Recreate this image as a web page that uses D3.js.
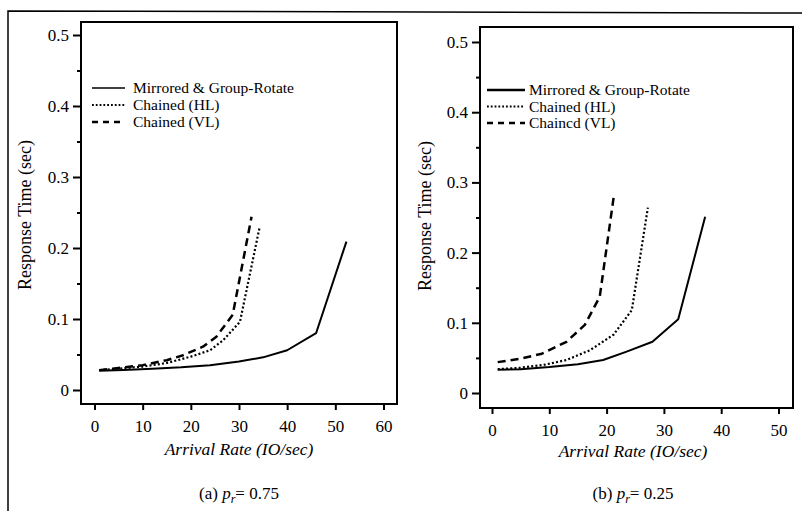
<!DOCTYPE html>
<html>
<head>
<meta charset="utf-8">
<script src="https://cdn.jsdelivr.net/npm/d3@7"></script>
<style>
  html, body { margin: 0; padding: 0; background: #fff; }
  svg { display: block; }
  text { font-family: "Liberation Serif", "Times New Roman", serif; fill: #000; }
</style>
</head>
<body>
<svg id="chart" width="802" height="511"></svg>
<script>
// ---------------- DATA ----------------
const seriesNames = ["Mirrored & Group-Rotate", "Chained (HL)", "Chained (VL)"];
const seriesNamesB = ["Mirrored & Group-Rotate", "Chained (HL)", "Chaincd (VL)"];

// Panel (a) p_r = 0.75
const a_mirroredX = [1, 6, 12, 18, 24, 30, 35, 40, 46, 52.3];
const a_mirroredY = [0.027, 0.028, 0.030, 0.032, 0.035, 0.040, 0.046, 0.056, 0.080, 0.209];
const a_hlX = [1, 5, 10, 15, 20, 24, 26.7, 30.2, 34.3];
const a_hlY = [0.028, 0.030, 0.033, 0.038, 0.047, 0.056, 0.070, 0.096, 0.230];
const a_vlX = [1, 5, 10, 15, 18.4, 22.5, 25.3, 28.7, 32.6];
const a_vlY = [0.028, 0.031, 0.035, 0.042, 0.049, 0.061, 0.075, 0.106, 0.244];

// Panel (b) p_r = 0.25
const b_mirroredX = [1, 5, 10, 15, 19.4, 23.5, 28, 32.5, 37.2];
const b_mirroredY = [0.033, 0.034, 0.037, 0.041, 0.047, 0.059, 0.073, 0.105, 0.251];
const b_hlX = [1, 5, 9, 13, 17.1, 21.2, 24.4, 27.2];
const b_hlY = [0.034, 0.036, 0.040, 0.047, 0.061, 0.083, 0.118, 0.264];
const b_vlX = [1, 5, 8.7, 13, 16.2, 18.8, 21.3];
const b_vlY = [0.044, 0.049, 0.056, 0.073, 0.097, 0.137, 0.283];

const a_xTicks = [0, 10, 20, 30, 40, 50, 60];
const b_xTicks = [0, 10, 20, 30, 40, 50];
const yTicks = [0, 0.1, 0.2, 0.3, 0.4, 0.5];
const yMinorTicks = [0.05, 0.15, 0.25, 0.35, 0.45];

const xTitle = "Arrival Rate (IO/sec)";
const yTitle = "Response Time (sec)";

// ---------------- DRAW ----------------
const svg = d3.select("#chart");

// outer frame of the scanned figure
svg.append("path")
  .attr("d", "M8,511 L8,11 L802,13")
  .attr("fill", "none").attr("stroke", "#000").attr("stroke-width", 1.5);

const styles = [
  { width: 2, dash: null },
  { width: 2.2, dash: "2,2.2" },
  { width: 2.5, dash: "8,5" }
];

function panel(cfg) {
  const g = svg.append("g");
  const x = d3.scaleLinear().domain(cfg.xDomain).range(cfg.xRange);
  const y = d3.scaleLinear().domain([0, 0.5]).range(cfg.yRange);

  // box
  g.append("rect")
    .attr("x", cfg.box[0]).attr("y", cfg.box[1])
    .attr("width", cfg.box[2] - cfg.box[0]).attr("height", cfg.box[3] - cfg.box[1])
    .attr("fill", "none").attr("stroke", "#000").attr("stroke-width", 2);

  // y axis major
  const yAx = g.append("g").attr("transform", `translate(${cfg.box[0]},0)`)
    .call(d3.axisLeft(y).tickValues(yTicks).tickSize(8).tickPadding(4)
      .tickFormat(d => d === 0 ? "0" : d3.format(".1f")(d)));
  yAx.select(".domain").remove();
  yAx.selectAll("line").attr("stroke-width", 2);
  yAx.selectAll("text").attr("font-size", 17).attr("font-family", "Liberation Serif");
  // y minor
  const yMin = g.append("g").attr("transform", `translate(${cfg.box[0]},0)`)
    .call(d3.axisLeft(y).tickValues(yMinorTicks).tickSize(4).tickFormat(""));
  yMin.select(".domain").remove();
  yMin.selectAll("line").attr("stroke-width", 2);

  // x axis
  const xAx = g.append("g").attr("transform", `translate(0,${cfg.box[3]})`)
    .call(d3.axisBottom(x).tickValues(cfg.xTicks).tickSize(6).tickPadding(10).tickFormat(d3.format("d")));
  xAx.select(".domain").remove();
  xAx.selectAll("line").attr("stroke-width", 2);
  xAx.selectAll("text").attr("font-size", 17).attr("font-family", "Liberation Serif");

  // curves
  const line = d3.line().x(d => x(d[0])).y(d => y(d[1]));
  cfg.series.forEach((s, i) => {
    const pts = s.xs.map((v, k) => [v, s.ys[k]]);
    const p = g.append("path").datum(pts)
      .attr("d", line)
      .attr("fill", "none").attr("stroke", "#000")
      .attr("stroke-width", styles[i].width)
      .attr("stroke-linejoin", "round");
    if (styles[i].dash) p.attr("stroke-dasharray", styles[i].dash);
  });

  // legend
  cfg.names.forEach((n, i) => {
    const by = cfg.legend.y + i * cfg.legend.dy;
    const l = g.append("line")
      .attr("x1", cfg.legend.x1).attr("x2", cfg.legend.x2)
      .attr("y1", by - 5).attr("y2", by - 5)
      .attr("stroke", "#000").attr("stroke-width", i === 0 ? cfg.legend.w0 : styles[i].width);
    if (styles[i].dash) l.attr("stroke-dasharray", i === 2 ? "6,5" : "1.8,2");
    g.append("text").attr("x", cfg.legend.tx).attr("y", by)
      .attr("font-size", 15.5).text(n);
  });

  // axis titles
  g.append("text")
    .attr("x", cfg.xTitle[0]).attr("y", cfg.xTitle[1])
    .attr("text-anchor", "middle").attr("font-style", "italic").attr("font-size", 17.5)
    .text(xTitle);
  g.append("text")
    .attr("transform", `translate(${cfg.yTitle[0]},${cfg.yTitle[1]}) rotate(-90)`)
    .attr("text-anchor", "middle").attr("font-size", 18)
    .text(yTitle);

  // caption
  const c = g.append("text")
    .attr("x", cfg.caption[0]).attr("y", cfg.caption[1])
    .attr("text-anchor", "middle").attr("font-size", 17);
  c.append("tspan").text(cfg.captionLabel + " ");
  c.append("tspan").attr("font-style", "italic").text("p");
  c.append("tspan").attr("font-style", "italic").attr("font-size", 12).attr("dy", 4).text("r");
  c.append("tspan").attr("dy", -4).text("= " + cfg.captionValue);
}

panel({
  xDomain: [0, 60], xRange: [94.5, 383.5], yRange: [390, 35],
  box: [81, 22, 397, 404],
  xTicks: a_xTicks,
  series: [
    { xs: a_mirroredX, ys: a_mirroredY },
    { xs: a_hlX, ys: a_hlY },
    { xs: a_vlX, ys: a_vlY }
  ],
  names: seriesNames,
  legend: { x1: 92, x2: 125, tx: 133, y: 93, dy: 17, w0: 1.5 },
  xTitle: [239, 455], yTitle: [31, 215],
  caption: [239, 499], captionLabel: "(a)", captionValue: "0.75"
});

panel({
  xDomain: [0, 50], xRange: [492, 778.5], yRange: [393, 42],
  box: [480, 27, 793, 408],
  xTicks: b_xTicks,
  series: [
    { xs: b_mirroredX, ys: b_mirroredY },
    { xs: b_hlX, ys: b_hlY },
    { xs: b_vlX, ys: b_vlY }
  ],
  names: seriesNamesB,
  legend: { x1: 487, x2: 525, tx: 529, y: 95, dy: 16.5, w0: 2.5 },
  xTitle: [633, 457], yTitle: [431, 216],
  caption: [633, 499], captionLabel: "(b)", captionValue: "0.25"
});
</script>
</body>
</html>
